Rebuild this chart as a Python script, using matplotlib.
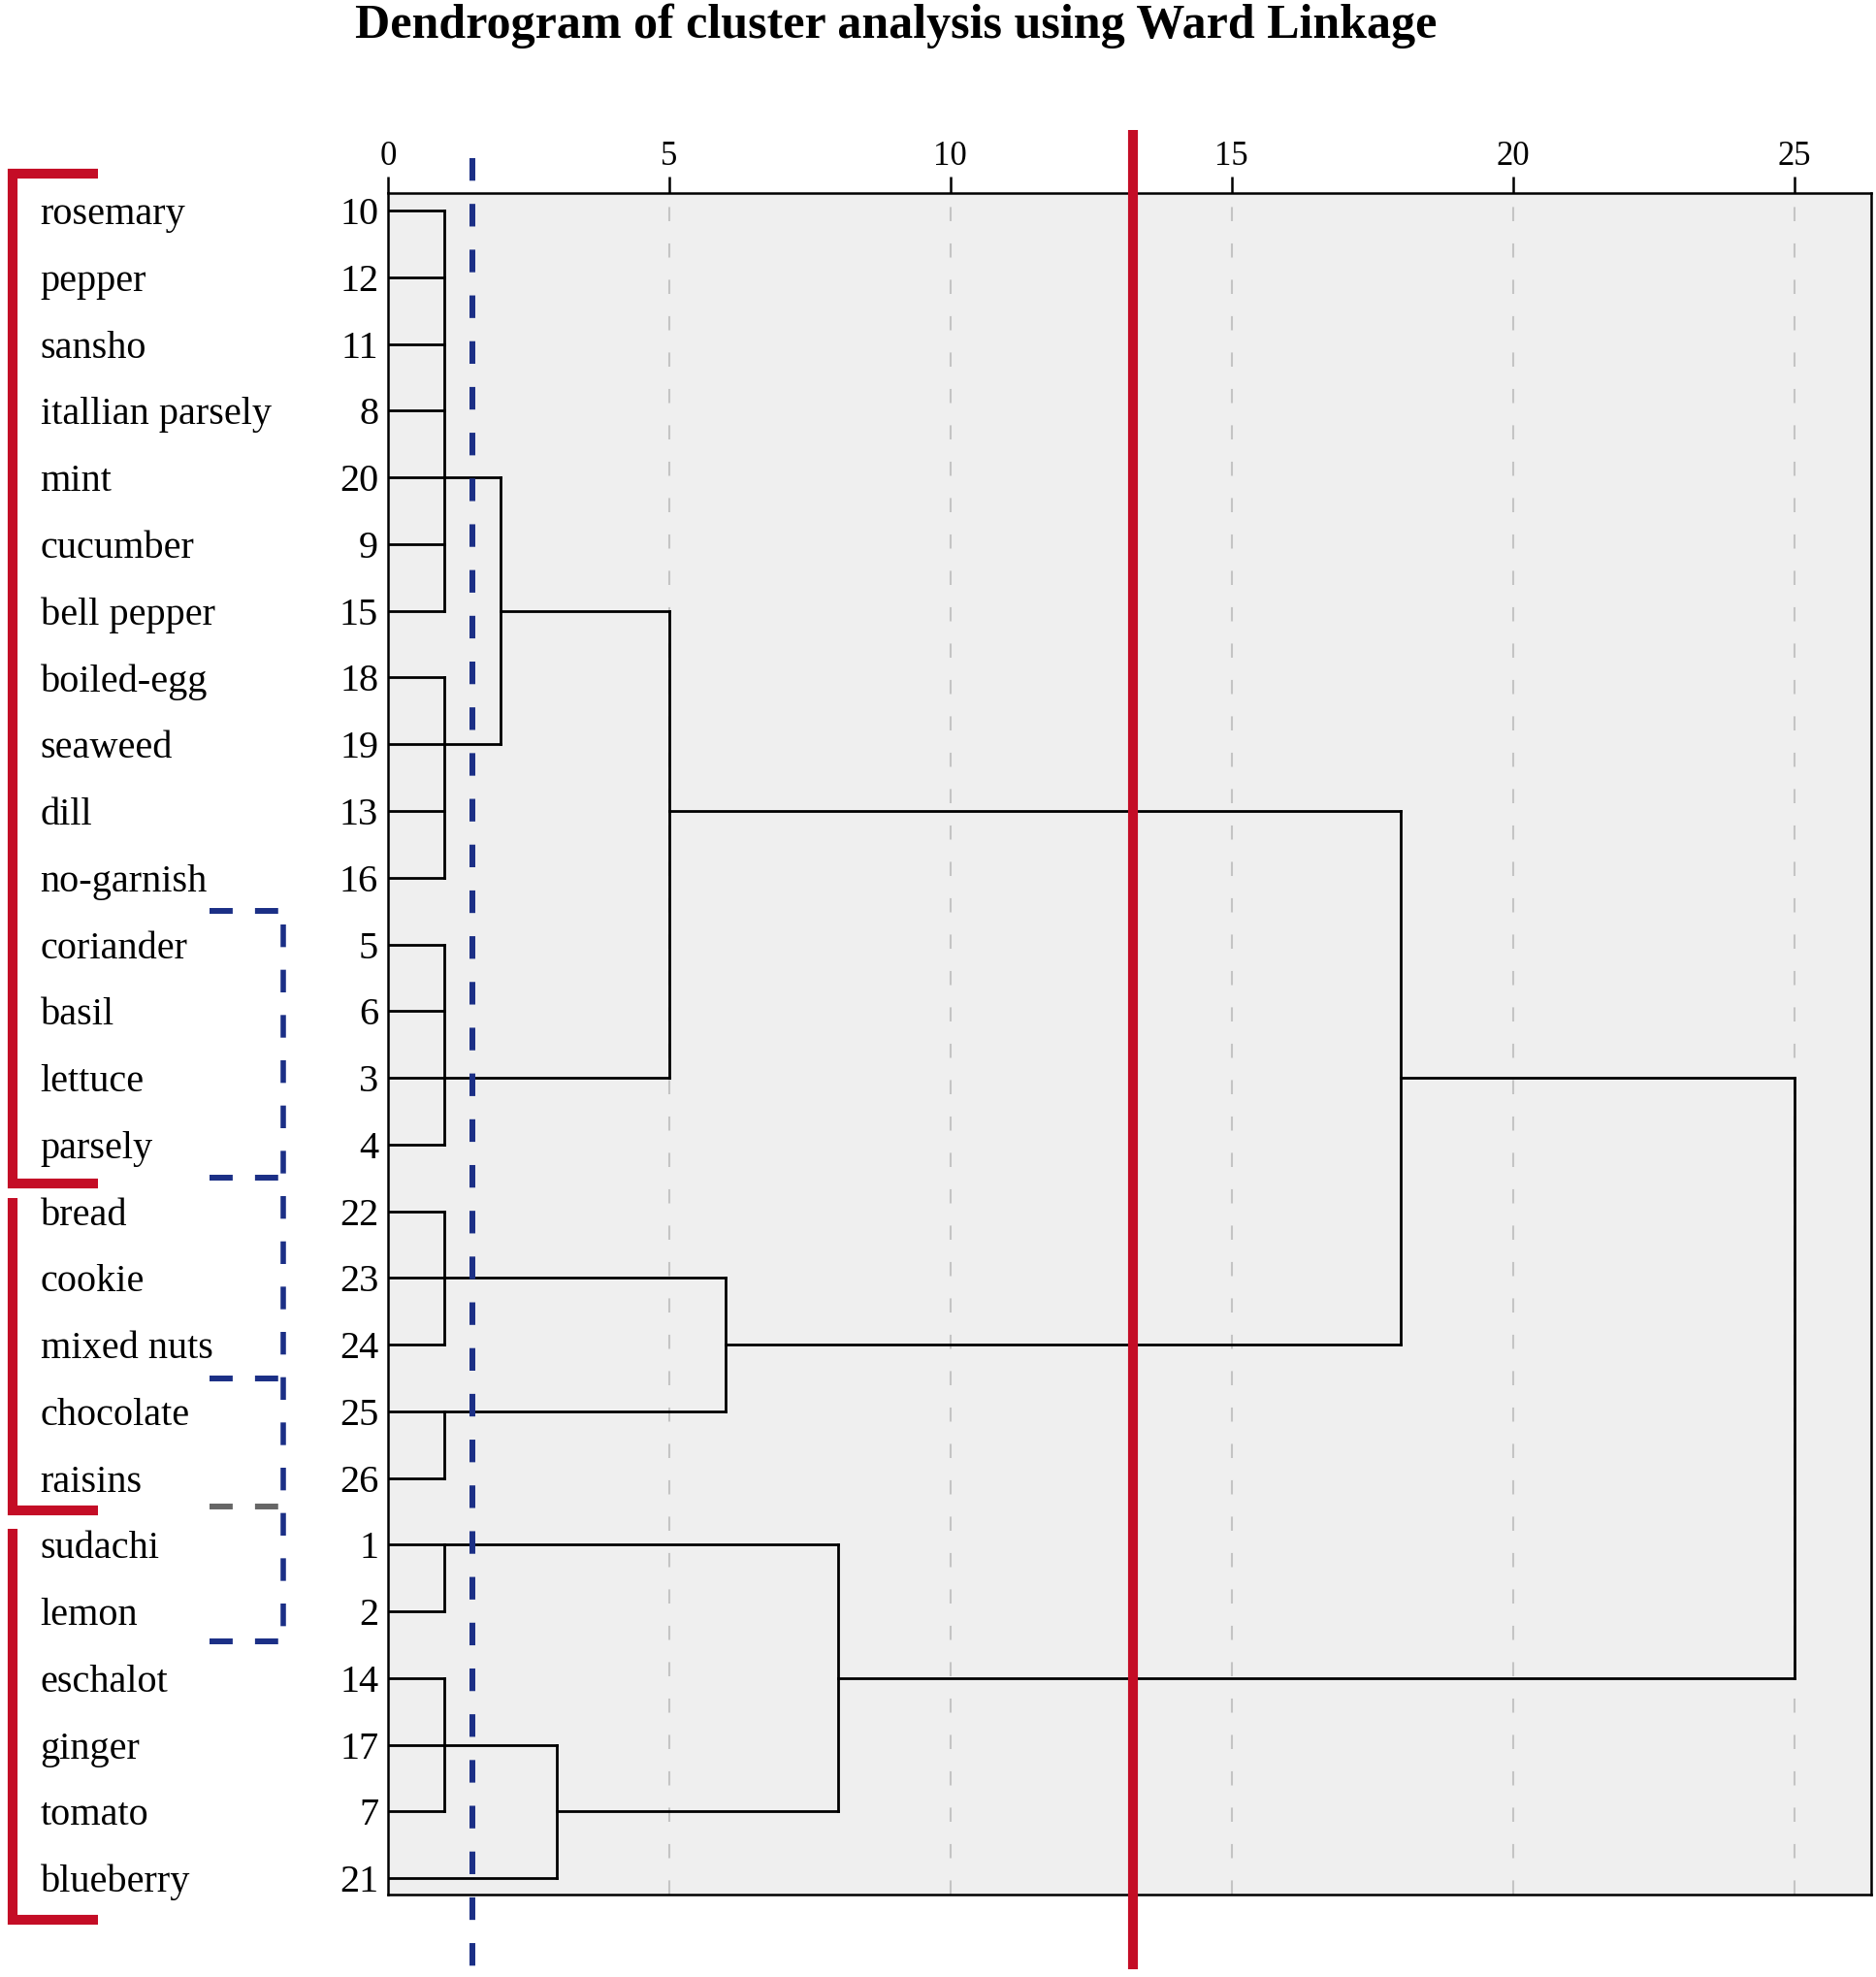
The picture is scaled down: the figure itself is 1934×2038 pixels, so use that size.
import matplotlib
matplotlib.use('Agg')
import matplotlib.pyplot as plt
import matplotlib.transforms as mtransforms

# leaves, top to bottom
leaf_names = ['rosemary', 'pepper', 'sansho', 'itallian parsely', 'mint', 'cucumber',
              'bell pepper', 'boiled-egg', 'seaweed', 'dill', 'no-garnish', 'coriander',
              'basil', 'lettuce', 'parsely', 'bread', 'cookie', 'mixed nuts', 'chocolate',
              'raisins', 'sudachi', 'lemon', 'eschalot', 'ginger', 'tomato', 'blueberry']
leaf_ids = [10, 12, 11, 8, 20, 9, 15, 18, 19, 13, 16, 5, 6, 3, 4,
            22, 23, 24, 25, 26, 1, 2, 14, 17, 7, 21]

# merges (children: 0-25 = leaf rows, 26+ = earlier merge), rescaled distance,
# and the row on which the link to the parent is drawn (SPSS style)
merge_children = [list(range(0, 7)), list(range(7, 11)), [26, 27], list(range(11, 15)),
                  [28, 29], [15, 16, 17], [18, 19], [31, 32], [30, 33], [20, 21],
                  [22, 23, 24], [36, 25], [35, 37], [34, 38]]
merge_heights = [1, 1, 2, 1, 5, 1, 1, 6, 18, 1, 1, 3, 8, 25]
merge_rows = [4, 8, 6, 13, 9, 16, 18, 17, 13, 20, 23, 24, 22, 13]

x_ticks = [0, 5, 10, 15, 20, 25]
cut_red = 13.25
cut_blue = 1.5

# annotation brackets on the left (in row units)
red_spans = [(-0.55, 14.58), (14.80, 19.48), (19.76, 25.62)]
red_top_cap = [True, False, False]
blue_span = (10.5, 21.45)
blue_ticks = [10.5, 14.49, 17.51, 19.42, 21.45]
blue_tick_colors = ['#1b2f86', '#1b2f86', '#1b2f86', '#666666', '#1b2f86']

RED = '#c40d26'
BLUE = '#1b2f86'
SERIF = ['Liberation Serif', 'DejaVu Serif']

plt.rcParams['font.family'] = SERIF

fig = plt.figure(figsize=(19.34, 20.38), dpi=100)
ax = fig.add_axes([0.2068, 0.0415, 0.7906, 0.8609])
ax.set_facecolor('#efefef')
ax.set_xlim(0, 26.37)
ax.set_ylim(25.25, -0.265)

for s in ax.spines.values():
    s.set_linewidth(1.8)
    s.set_color('black')

ax.xaxis.tick_top()
ax.set_xticks(x_ticks)
ax.set_xticklabels([str(t) for t in x_ticks])
ax.tick_params(axis='x', direction='out', length=12, width=1.8, labelsize=25, pad=3)
ax.set_yticks(range(len(leaf_ids)))
ax.set_yticklabels([str(i) for i in leaf_ids])
ax.tick_params(axis='y', length=0, labelsize=29, pad=7)
ax.grid(axis='x', color='#c4c4c4', linestyle=(0, (7, 11)), linewidth=1.5)
ax.set_axisbelow(True)

# dendrogram
node_x = {i: 0 for i in range(len(leaf_names))}
node_row = {i: i for i in range(len(leaf_names))}
lk = dict(color='black', lw=2, solid_capstyle='projecting')
for k, (ch, h, r) in enumerate(zip(merge_children, merge_heights, merge_rows)):
    rows = [node_row[c] for c in ch]
    for c in ch:
        ax.plot([node_x[c], h], [node_row[c], node_row[c]], **lk)
    ax.plot([h, h], [min(rows), max(rows)], **lk)
    node_x[26 + k] = h
    node_row[26 + k] = r

# food names
trans = mtransforms.blended_transform_factory(fig.transFigure, ax.transData)
for i, name in enumerate(leaf_names):
    ax.text(0.0215, i, name, transform=trans, ha='left', va='center_baseline',
            fontsize=29, clip_on=False)

# cut lines
ax.plot([cut_red, cut_red], [-1.21, 26.37], color=RED, lw=7.3, clip_on=False,
        solid_capstyle='butt', zorder=5)
ax.plot([cut_blue, cut_blue], [-0.79, 26.37], color=BLUE, lw=4.3, clip_on=False,
        linestyle=(0, (3.9, 4.0)), zorder=5)

# red brackets
bx, bcap = -6.68, -5.16
for (y0, y1), top in zip(red_spans, red_top_cap):
    xs = [bx, bx, bcap]
    ys = [y0, y1, y1]
    if top:
        xs = [bcap] + xs
        ys = [y0] + ys
    ax.plot(xs, ys, color=RED, lw=7.3, clip_on=False, solid_joinstyle='miter',
            solid_capstyle='butt', zorder=5)

# blue dashed bracket
ax.plot([-1.87, -1.87], [blue_span[0] + 0.2, blue_span[1]], color=BLUE, lw=4.0,
        linestyle=(0, (4.2, 4.2)), clip_on=False)
for y, c in zip(blue_ticks, blue_tick_colors):
    ax.plot([-3.18, -1.95], [y, y], color=c, lw=4.3, linestyle=(0, (4.0, 3.85)),
            clip_on=False)

fig.text(0.4775, 0.987, 'Dendrogram of cluster analysis using Ward Linkage',
         ha='center', va='center', fontsize=36, fontweight='bold')

fig.savefig('out.png', dpi=100)
